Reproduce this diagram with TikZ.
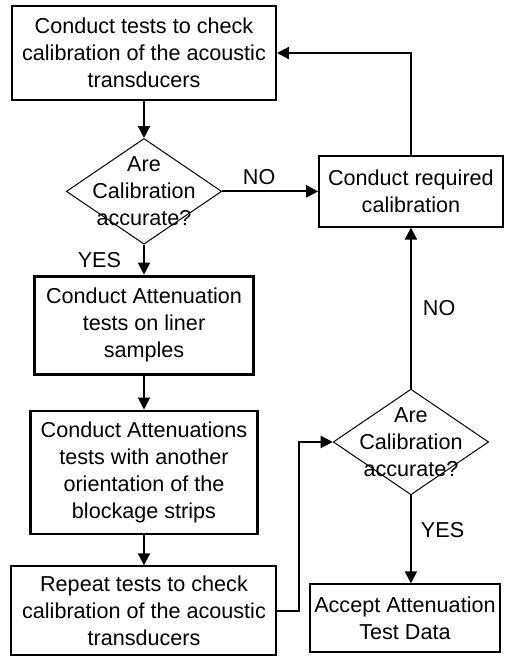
\documentclass[tikz,border=0pt]{standalone}
\usepackage{fontspec}
\setmainfont{Liberation Sans}
\usetikzlibrary{positioning}
\usetikzlibrary{shapes.geometric}
\usetikzlibrary{arrows.meta}

\begin{document}
\begin{tikzpicture}[
    font=\fontsize{10.8}{13.5}\selectfont,
    stepbox/.style={rectangle, draw, line width=1pt, align=center, inner sep=2pt},
    thickbox/.style={stepbox, line width=1.4pt},
    decision/.style={diamond, draw, line width=0.5pt, align=center, aspect=1.47, inner sep=-5pt},
    flow/.style={-{Triangle[length=6pt,width=6pt]}, line width=1pt},
    answer/.style={inner sep=0pt},
  ]
  \useasboundingbox (0,0) rectangle (253pt,-330.5pt);

  %Nodes
  \node[stepbox, minimum width=132pt, minimum height=47pt] (check) at (72pt,-26.5pt) {Conduct tests to check\\calibration of the acoustic\\transducers};
  \node[decision]        (calib1)  [below=18.5pt of check]  {Are\\Calibration\\accurate?};
  \node[thickbox, minimum width=109.5pt, minimum height=49pt]  (atten)   [below=15pt of calib1]  {Conduct Attenuation\\tests on liner\\samples};
  \node[thickbox, minimum width=113.5pt, minimum height=61.5pt] (orient)  [below=17pt of atten]   {Conduct Attenuations\\tests with another\\orientation of the\\blockage strips};
  \node[stepbox, minimum width=132.5pt, minimum height=44.5pt] (repeat)  [below=15pt of orient]  {Repeat tests to check\\calibration of the acoustic\\transducers};
  \node[stepbox, line width=0.75pt, minimum width=92pt, minimum height=35.5pt] (recal) [right=48pt of calib1] {Conduct required\\calibration};
  \node[decision]        (calib2)  [below=80.5pt of recal]  {Are\\Calibration\\accurate?};
  \node[stepbox, minimum width=94.5pt, minimum height=34pt] (accept) [below=44pt of calib2, xshift=-3pt] {Accept Attenuation\\Test Data};

  %Lines
  \draw[flow] (check.south) -- (calib1.north);
  \draw[flow] (calib1.south) -- node[answer, left=11pt] {YES} (atten.north);
  \draw[flow] (calib1.east) -- node[answer, above=3pt, pos=0.385] {NO} (recal.west);
  \draw[flow] (atten.south) -- (orient.north);
  \draw[flow] (orient.south) -- (repeat.north);
  \draw[flow] (recal.north) |- (check.east);
  \draw[flow] (repeat.east) -- ++(11pt,0) |- (calib2.west);
  \draw[flow] (calib2.north) -- node[answer, right=5.5pt] {NO} (recal.south);
  \draw[flow] (calib2.south) -- node[answer, right=4.5pt, pos=0.4] {YES} (calib2.south |- accept.north);
\end{tikzpicture}
\end{document}
